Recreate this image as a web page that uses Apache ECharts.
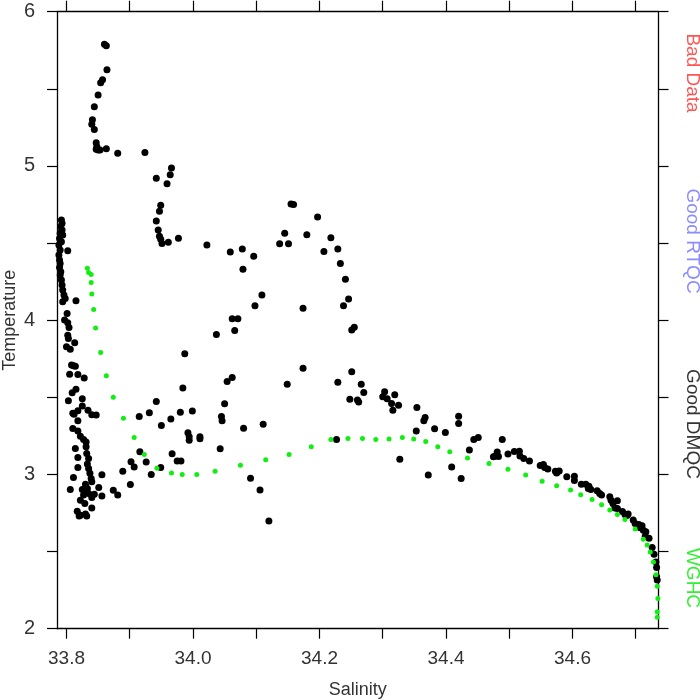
<!DOCTYPE html>
<html><head><meta charset="utf-8">
<script src="https://cdn.jsdelivr.net/npm/echarts@6/dist/echarts.min.js"></script>
<style>html,body{margin:0;padding:0;background:#fff}#c{width:700px;height:700px}</style>
</head><body><div id="c"></div>
<script>
// ---- data ----
const xTickValues = [33.8, 33.9, 34.0, 34.1, 34.2, 34.3, 34.4, 34.5, 34.6, 34.7];
const xLabelValues = [33.8, 34.0, 34.2, 34.4, 34.6];
const yTickValues = [2, 2.5, 3, 3.5, 4, 4.5, 5, 5.5, 6];
const yLabelValues = [2, 3, 4, 5, 6];
const xTitle = 'Salinity';
const yTitle = 'Temperature';
const qcLabels = ['Bad Data', 'Good RTQC', 'Good DMQC', 'WGHC'];

// Good DMQC profile points [salinity, temperature]
const dmqcPoints = [
[33.860,5.789],[33.863,5.78],[33.864,5.624],[33.857,5.559],[33.854,5.54],[33.850,5.46],[33.844,5.384],
[33.841,5.30],[33.840,5.27],[33.844,5.237],[33.847,5.15],[33.848,5.124],[33.847,5.108],[33.850,5.103],
[33.853,5.103],[33.863,5.112],[33.881,5.082],[33.924,5.088],[33.966,4.986],[33.964,4.943],[33.942,4.92],
[33.959,4.885],[33.949,4.745],[33.947,4.706],[33.942,4.643],[33.945,4.584],[33.947,4.545],[33.949,4.524],
[33.951,4.498],[33.961,4.505],[33.977,4.532],[34.022,4.487],[34.155,4.753],[34.159,4.75],[34.145,4.563],
[34.137,4.496],[34.151,4.496],[34.059,4.442],[34.078,4.461],[34.096,4.414],[34.079,4.33],[34.109,4.163],
[34.098,4.093],[34.062,4.009],[34.071,4.009],[34.066,3.934],[34.037,3.908],[33.987,3.782],[34.062,3.629],
[34.054,3.603],[33.984,3.56],[34.149,3.584],[34.197,4.669],[34.180,4.554],[34.218,4.534],[34.207,4.446],
[34.229,4.461],[34.233,4.368],[34.241,4.265],[34.246,4.137],[34.238,4.093],[34.255,3.955],[34.251,3.936],
[34.174,4.077],[34.174,3.688],[34.251,3.665],[34.229,3.597],[34.266,3.584],[34.270,3.532],[34.248,3.488],
[34.260,3.482],[34.262,3.47],[34.303,3.536],[34.300,3.503],[34.307,3.49],[34.319,3.516],[34.314,3.46],
[34.325,3.448],[34.316,3.417],[34.354,3.434],[34.367,3.37],[34.365,3.348],[34.353,3.281],[34.382,3.296],
[34.111,3.326],[34.227,3.227],[34.327,3.099],[34.372,2.996],[34.420,3.378],[34.420,3.331],[34.399,3.272],
[34.409,3.049],[34.424,2.974],[34.437,3.158],[34.444,3.227],[34.451,3.24],[34.489,3.227],[34.481,3.145],
[34.478,3.119],[34.475,3.114],[34.483,3.117],[34.498,3.132],[34.508,3.149],[34.516,3.151],[34.517,3.119],
[34.523,3.104],[34.532,3.088],[34.549,3.058],[34.554,3.065],[34.556,3.045],[34.561,3.036],[34.573,3.021],
[34.579,3.023],[34.575,3.01],[34.591,2.985],[34.603,2.989],[34.603,2.961],[34.614,2.937],[34.621,2.937],
[34.626,2.924],[34.625,2.909],[34.629,2.903],[34.639,2.894],[34.643,2.877],[34.646,2.866],[34.659,2.855],
[34.661,2.833],[34.671,2.829],[34.664,2.812],[34.667,2.783],[34.671,2.78],[34.679,2.76],[34.683,2.741],
[34.686,2.734],[34.688,2.743],[34.696,2.704],[34.699,2.682],[34.705,2.676],[34.710,2.667],[34.707,2.654],
[34.712,2.639],[34.716,2.628],[34.715,2.60],[34.721,2.587],[34.726,2.527],[34.729,2.483],[34.732,2.433],
[34.733,2.397],[34.733,2.336],[34.734,2.315],
[33.942,3.473],[33.915,3.376],[33.931,3.40],[33.980,3.404],[33.999,3.412],[33.965,3.359],[33.950,3.318],
[34.050,3.458],[34.045,3.376],[34.046,3.348],[33.992,3.27],[33.994,3.244],[33.994,3.222],[34.011,3.244],
[34.011,3.231],[34.080,3.30],[34.043,3.166],[33.916,3.147],[33.902,3.082],[33.907,3.049],[33.889,3.021],
[33.926,3.08],[33.967,3.134],[33.975,3.088],[33.981,3.088],[33.949,3.045],[33.934,3.0],[33.901,2.935],
[34.091,2.976],[34.106,2.90],[34.120,2.699],
[33.792,4.649],[33.793,4.628],[33.791,4.606],[33.793,4.584],[33.790,4.563],[33.794,4.552],[33.789,4.53],
[33.792,4.508],[33.788,4.487],[33.790,4.455],[33.802,4.45],[33.788,4.422],[33.789,4.39],[33.790,4.368],
[33.789,4.342],[33.791,4.314],[33.790,4.293],[33.792,4.26],[33.793,4.228],[33.794,4.195],[33.796,4.163],
[33.798,4.141],[33.794,4.119],[33.815,4.126],[33.801,4.044],[33.797,4.001],[33.802,3.983],[33.804,3.953],
[33.802,3.903],[33.803,3.882],[33.800,3.828],[33.806,3.811],[33.813,3.853],[33.808,3.709],[33.811,3.704],
[33.814,3.702],[33.805,3.65],[33.818,3.648],[33.828,3.625],[33.809,3.529],[33.815,3.553],[33.803,3.477],
[33.825,3.49],[33.825,3.443],[33.810,3.396],[33.812,3.391],[33.818,3.413],[33.834,3.417],[33.840,3.387],
[33.847,3.385],[33.818,3.348],[33.810,3.298],[33.818,3.281],[33.822,3.248],[33.827,3.227],[33.831,3.211],
[33.814,3.169],[33.831,3.179],[33.832,3.136],[33.818,3.11],[33.835,3.104],[33.833,3.067],[33.818,3.045],
[33.835,3.039],[33.837,3.007],[33.856,2.998],[33.811,2.981],[33.839,2.974],[33.840,2.952],[33.830,2.937],
[33.825,2.903],[33.806,2.903],[33.833,2.909],[33.830,2.887],[33.827,2.866],[33.835,2.877],[33.844,2.872],
[33.851,2.916],[33.856,2.86],[33.822,2.833],[33.840,2.851],[33.829,2.812],[33.840,2.783],[33.817,2.762],
[33.822,2.736],[33.830,2.743],[33.832,2.73],[33.820,2.73],[33.874,2.898],[33.881,2.866]
];

// WGHC climatology profile points [salinity, temperature]
const wghcPoints = [
[33.833,4.336],[33.835,4.31],[33.839,4.297],[33.839,4.245],[33.840,4.17],[33.843,4.07],[33.846,3.95],
[33.854,3.79],[33.863,3.64],[33.874,3.50],[33.890,3.365],[33.907,3.24],[33.923,3.13],[33.943,3.04],
[33.966,3.01],[33.983,3.00],[34.006,3.00],[34.035,3.02],[34.075,3.06],[34.115,3.095],[34.152,3.13],
[34.187,3.18],[34.218,3.227],[34.245,3.233],[34.268,3.233],[34.289,3.227],[34.310,3.23],[34.331,3.24],
[34.349,3.23],[34.368,3.214],[34.387,3.18],[34.406,3.147],[34.434,3.106],[34.468,3.071],[34.498,3.034],
[34.526,2.997],[34.552,2.956],[34.575,2.926],[34.597,2.90],[34.613,2.868],[34.631,2.838],[34.646,2.803],
[34.659,2.77],[34.671,2.74],[34.683,2.708],[34.699,2.647],[34.712,2.58],[34.718,2.543],[34.723,2.498],
[34.728,2.433],[34.732,2.35],[34.734,2.276],[34.735,2.196],[34.734,2.11],[34.734,2.075]
];

// ---- chart ----
const FONT = '"Liberation Sans", Arial, sans-serif';
const TXT = '#333';
const axisLine = {show: true, onZero: false, lineStyle: {color: '#000', width: 1.3}};
const tick = (vals, len) => ({show: true, inside: false, length: len, customValues: vals, lineStyle: {color: '#000', width: 1.2}});

const chart = echarts.init(document.getElementById('c'), null, {renderer: 'canvas'});
const qcColors = ['#ff5555', '#8c8cff', '#333333', '#33ee33'];
const qcCenters = [73, 241, 424, 578];

chart.setOption({
  animation: false,
  backgroundColor: '#fff',
  grid: {left: 57, right: 41.5, top: 11.7, bottom: 71.3, containLabel: false, outerBoundsMode: 'none'},
  xAxis: [{
    type: 'value', position: 'bottom', min: 33.785, max: 34.736,
    axisLine, axisTick: tick(xTickValues, 10), splitLine: {show: false},
    axisLabel: {customValues: xLabelValues, margin: 21, fontSize: 19, color: TXT, fontFamily: FONT,
      formatter: v => v.toFixed(1)},
    name: xTitle, nameLocation: 'middle', nameGap: 52, nameMoveOverlap: false,
    nameTextStyle: {fontSize: 18, color: TXT, fontFamily: FONT}
  }, {
    type: 'value', position: 'top', min: 33.785, max: 34.736,
    axisLine, axisTick: tick(xTickValues, 11), axisLabel: {show: false}, splitLine: {show: false}
  }],
  yAxis: [{
    type: 'value', position: 'left', min: 2, max: 6, interval: 0.5,
    axisLine, axisTick: tick(yTickValues, 10), splitLine: {show: false},
    axisLabel: {customValues: yLabelValues, margin: 22, fontSize: 20, color: TXT, fontFamily: FONT,
      formatter: v => String(v)},
    name: yTitle, nameLocation: 'middle', nameGap: 38, nameMoveOverlap: false,
    nameTextStyle: {fontSize: 18, color: TXT, fontFamily: FONT}
  }, {
    type: 'value', position: 'right', min: 2, max: 6, interval: 0.5,
    axisLine, axisTick: tick(yTickValues, 10), axisLabel: {show: false}, splitLine: {show: false}
  }],
  series: [{
    type: 'scatter', name: 'Good DMQC', data: dmqcPoints, symbol: 'circle', symbolSize: 7,
    itemStyle: {color: '#000', opacity: 1}, clip: false, z: 2
  }, {
    type: 'scatter', name: 'WGHC', data: wghcPoints, symbol: 'circle', symbolSize: 5,
    itemStyle: {color: '#11ee11', opacity: 1}, clip: false, z: 3
  }],
  graphic: qcLabels.map((t, i) => ({
    type: 'text', x: 692, y: qcCenters[i], rotation: -Math.PI / 2,
    style: {text: t, fill: qcColors[i], fontSize: 19, fontFamily: FONT,
      align: 'center', verticalAlign: 'middle', textAlign: 'center', textVerticalAlign: 'middle'}
  }))
});
</script>
</body></html>
